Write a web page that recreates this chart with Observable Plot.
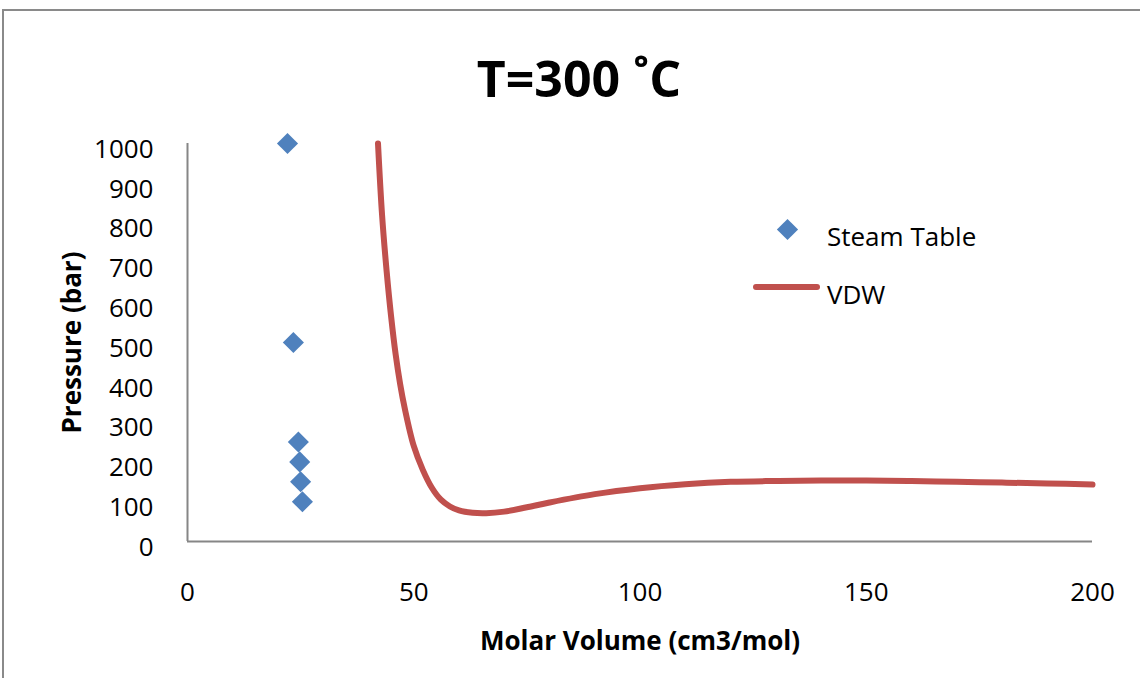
<!DOCTYPE html>
<html>
<head>
<meta charset="utf-8">
<script src="https://cdn.jsdelivr.net/npm/d3@7"></script>
<script src="https://cdn.jsdelivr.net/npm/@observablehq/plot@0.6"></script>
<style>
  html, body { margin: 0; padding: 0; background: #fff; }
  body { width: 1140px; height: 678px; position: relative; overflow: hidden; font-family: "Open Sans", sans-serif; }
  #frame { position: absolute; left: 2px; top: 9px; width: 1200px; height: 720px; border-left: 2px solid #8a8a8a; border-top: 2px solid #8a8a8a; box-sizing: border-box; }
  #title { position: absolute; left: 0; top: 0; width: 1140px; height: 110px; box-sizing: border-box; padding-top: 53px; padding-left: 18px; text-align: center; font-weight: bold; font-size: 50px; line-height: 1; color: #000; }
  #chart { position: absolute; left: 0; top: 110px; }
  #chart svg g[aria-label="x-axis label"] text, #chart svg g[aria-label="y-axis label"] text { font-weight: bold; }
  .leg-text { position: absolute; font-size: 26px; line-height: 1; color: #000; white-space: nowrap; }
  #leg-diamond { position: absolute; left: 779.5px; top: 221.5px; width: 15px; height: 15px; background: #4F81BD; transform: rotate(45deg); }
  #leg-line { position: absolute; left: 753px; top: 284px; width: 67px; height: 6px; border-radius: 3px; background: #C0504D; }
</style>
</head>
<body>
<div id="frame"></div>
<div id="title">T=300 ˚C</div>
<div id="chart"></div>
<div id="leg-diamond"></div>
<div class="leg-text" id="leg-steam" style="left:827px; top:223px;">Steam Table</div>
<div id="leg-line"></div>
<div class="leg-text" id="leg-vdw" style="left:827px; top:281px;">VDW</div>
<script>
// Steam table data (molar volume cm3/mol, pressure bar)
const steamV = [22.1, 23.4, 24.5, 24.8, 25.0, 25.4];
const steamP = [1000, 500, 250, 200, 150, 100];

// Van der Waals curve
const vdwV = [42.1, 43, 44, 45, 46, 47, 48, 50, 52, 54, 56, 58, 60, 63, 66, 70, 75, 80, 90, 100, 110, 120, 130, 140, 150, 160, 170, 180, 190, 200];
const vdwP = [1000, 820, 680, 565, 470, 395, 335, 240, 180, 135, 105, 88, 78, 72, 71, 75, 86, 98, 119, 134, 144, 150, 152, 153, 153, 152, 150, 148, 146, 143];

const xTicks = [0, 50, 100, 150, 200];
const yTicks = [0, 100, 200, 300, 400, 500, 600, 700, 800, 900, 1000];

const steam = steamV.map((v, i) => ({v, p: steamP[i]}));
const vdw = vdwV.map((v, i) => ({v, p: vdwP[i]}));

const axisColor = "#868686";

const chart = Plot.plot({
  width: 1140,
  height: 568,
  marginTop: 33,
  marginBottom: 137,
  marginLeft: 187,
  marginRight: 48,
  style: {fontFamily: "Open Sans", fontSize: "26px", color: "#000", background: "transparent"},
  x: {domain: [0, 200]},
  y: {domain: [0, 1000]},
  marks: [
    Plot.axisX({ticks: xTicks, tickSize: 0, tickPadding: 41, tickFormat: d => String(d),
      label: "Molar Volume (cm3/mol)", labelAnchor: "center", labelArrow: "none", labelOffset: 108}),
    Plot.axisY({ticks: yTicks, tickSize: 0, tickPadding: 34, dy: 6, tickFormat: d => String(d),
      label: "Pressure (bar)", labelAnchor: "center", labelArrow: "none", labelOffset: 125}),
    Plot.ruleX([0], {stroke: axisColor, strokeWidth: 2}),
    Plot.ruleY([0], {stroke: axisColor, strokeWidth: 2}),
    Plot.line(vdw, {x: "v", y: "p", stroke: "#C0504D", strokeWidth: 6, strokeLinecap: "round", strokeLinejoin: "round", curve: "catmull-rom"}),
    Plot.dot(steam, {x: "v", y: "p", symbol: "diamond2", r: 9.5, fill: "#4F81BD", stroke: "none"})
  ]
});
document.getElementById("chart").appendChild(chart);
</script>
</body>
</html>
